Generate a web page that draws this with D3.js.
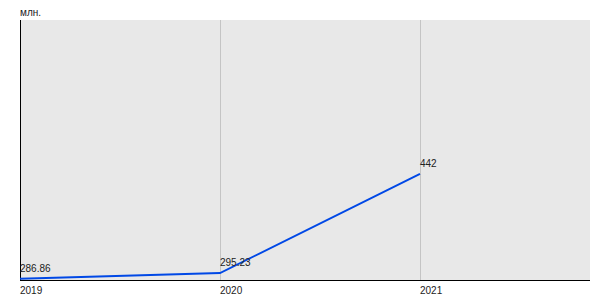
<!DOCTYPE html>
<html>
<head>
<meta charset="utf-8">
<script src="https://cdn.jsdelivr.net/npm/d3@7"></script>
<style>
    body { margin: 0; background: #fff; }
    text { font-family: "Liberation Sans", Arial, sans-serif; font-size: 10px; fill: #222; }
</style>
</head>
<body>
<svg id="chart" width="600" height="300"></svg>
<script>
// data
const years = [2019, 2020, 2021];
const values = [286.86, 295.23, 442];
const valueLabels = ["286.86", "295.23", "442"];
const yearLabels = ["2019", "2020", "2021"];
const unitLabel = "млн.";

// plot box
const plot = { left: 20, top: 20, right: 590, bottom: 280 };

const svg = d3.select("#chart");

const x = d3.scaleLinear()
    .domain([2019, 2021.85])
    .range([plot.left, plot.right]);

const y = d3.scaleLinear()
    .domain([285, 670])
    .range([plot.bottom, plot.top]);

// background
svg.append("rect")
    .attr("x", plot.left)
    .attr("y", plot.top)
    .attr("width", plot.right - plot.left)
    .attr("height", plot.bottom - plot.top)
    .attr("fill", "#e8e8e8");

// vertical grid
svg.append("g")
    .selectAll("line")
    .data(years.slice(1))
    .enter()
    .append("line")
    .attr("x1", d => Math.round(x(d)) + 0.5)
    .attr("x2", d => Math.round(x(d)) + 0.5)
    .attr("y1", plot.top)
    .attr("y2", plot.bottom)
    .attr("stroke", "#c4c4c4")
    .attr("stroke-width", 1);

// axes lines
svg.append("line")
    .attr("x1", plot.left + 0.5).attr("x2", plot.left + 0.5)
    .attr("y1", plot.top).attr("y2", plot.bottom + 1)
    .attr("stroke", "#000");
svg.append("line")
    .attr("x1", plot.left).attr("x2", plot.right)
    .attr("y1", plot.bottom + 0.5).attr("y2", plot.bottom + 0.5)
    .attr("stroke", "#000");

// line
const data = years.map((yr, i) => ({ year: yr, value: values[i], label: valueLabels[i] }));

const line = d3.line()
    .x(d => x(d.year))
    .y(d => y(d.value));

svg.append("path")
    .datum(data)
    .attr("d", line)
    .attr("fill", "none")
    .attr("stroke", "#0048e6")
    .attr("stroke-width", 2);

// value labels
svg.append("g")
    .selectAll("text")
    .data(data)
    .enter()
    .append("text")
    .attr("x", d => x(d.year))
    .attr("y", d => y(d.value) - 7)
    .text(d => d.label);

// year labels
svg.append("g")
    .selectAll("text")
    .data(years)
    .enter()
    .append("text")
    .attr("x", d => x(d))
    .attr("y", 294)
    .text((d, i) => yearLabels[i]);

// unit
svg.append("text")
    .attr("x", plot.left)
    .attr("y", 16)
    .text(unitLabel);
</script>
</body>
</html>
